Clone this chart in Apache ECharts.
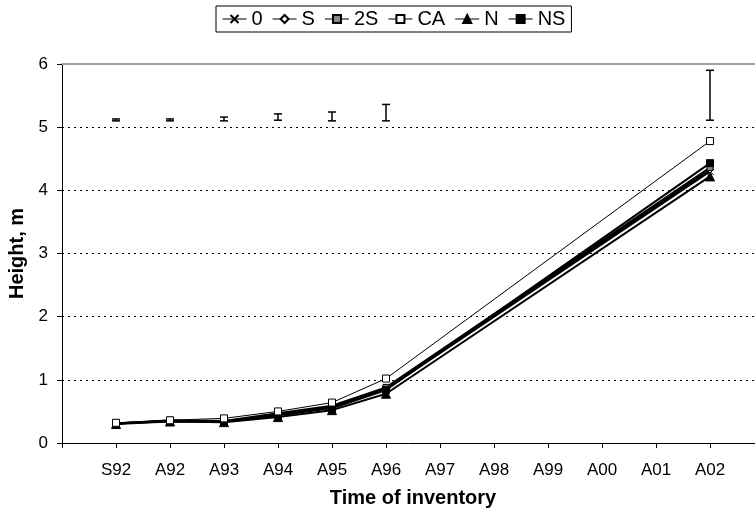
<!DOCTYPE html>
<html><head><meta charset="utf-8">
<script src="https://cdn.jsdelivr.net/npm/echarts@6/dist/echarts.min.js"></script>
<style>html,body{margin:0;padding:0;background:#fff}#c{width:755px;height:512px}</style>
</head><body><div id="c"></div>
<script>
var categories = ['', 'S92','A92','A93','A94','A95','A96','A97','A98','A99','A00','A01','A02', ''];
var s0  = [null, 0.31, 0.35, 0.34, 0.45, 0.57, 0.85, null, null, null, null, null, 4.30, null];
var sS  = [null, 0.31, 0.35, 0.34, 0.44, 0.56, 0.86, null, null, null, null, null, 4.33, null];
var s2S = [null, 0.31, 0.36, 0.35, 0.47, 0.59, 0.88, null, null, null, null, null, 4.36, null];
var sCA = [null, 0.32, 0.36, 0.39, 0.50, 0.64, 1.02, null, null, null, null, null, 4.78, null];
var sN  = [null, 0.30, 0.34, 0.33, 0.41, 0.52, 0.78, null, null, null, null, null, 4.22, null];
var sNS = [null, 0.31, 0.35, 0.34, 0.44, 0.55, 0.84, null, null, null, null, null, 4.43, null];
var errLow  = [null, 5.10, 5.10, 5.10, 5.11, 5.10, 5.10, null, null, null, null, null, 5.11, null];
var errHigh = [null, 5.13, 5.13, 5.16, 5.21, 5.24, 5.36, null, null, null, null, null, 5.90, null];
var yTicks = [0, 1, 2, 3, 4, 5, 6];

var FONT = 'Liberation Sans';
var chart = echarts.init(document.getElementById('c'));
function lineSeries(name, data, symbol, size, fill, width, z) {
  return {
    name: name, type: 'line', data: data, connectNulls: true,
    symbol: symbol, symbolSize: size, showSymbol: true, z: z,
    lineStyle: {color: '#000', width: width},
    itemStyle: {color: fill, borderColor: '#000', borderWidth: 1, opacity: 1},
    emphasis: {disabled: true}, animation: false
  };
}
var errData = [];
for (var i = 0; i < categories.length; i++) {
  if (errLow[i] != null) errData.push([i, errLow[i], errHigh[i]]);
}
var option = {
  animation: false,
  textStyle: {fontFamily: FONT},
  legend: {
    top: 6, left: 216,
    data: ['0','S','2S','CA','N','NS'],
    itemWidth: 24, itemHeight: 10, itemGap: 9.5,
    padding: [3, 6, 3, 6],
    borderColor: '#000', borderWidth: 1,
    lineStyle: {width: 1},
    textStyle: {fontFamily: FONT, fontSize: 20, color: '#000'}
  },
  grid: {left: 62, right: -9, top: 64, bottom: 69, containLabel: false, outerBoundsMode: 'none'},
  xAxis: [{
    type: 'category', data: categories, boundaryGap: false,
    axisLine: {lineStyle: {color: '#000', width: 1}},
    axisTick: {show: true, length: 5, lineStyle: {color: '#000'}},
    axisLabel: {fontFamily: FONT, fontSize: 17, color: '#000', margin: 19, interval: 0},
    splitLine: {show: false},
    name: 'Time of inventory', nameLocation: 'middle', nameGap: 45,
    nameTextStyle: {fontFamily: FONT, fontSize: 20, fontWeight: 'bold', color: '#000'}
  }, {
    type: 'category', data: categories, boundaryGap: false, position: 'top',
    axisLine: {lineStyle: {color: '#a0a0a0', width: 2}},
    axisTick: {show: false}, axisLabel: {show: false}, splitLine: {show: false}
  }],
  yAxis: {
    type: 'value', min: yTicks[0], max: yTicks[yTicks.length-1], interval: 1,
    axisLine: {show: true, lineStyle: {color: '#000', width: 1}},
    axisTick: {show: true, length: 5, lineStyle: {color: '#000'}},
    axisLabel: {fontFamily: FONT, fontSize: 17, color: '#000', margin: 14},
    splitLine: {show: true, lineStyle: {color: '#000', type: [2, 4], width: 1}},
    name: 'Height, m', nameLocation: 'middle', nameGap: 27,
    nameTextStyle: {fontFamily: FONT, fontSize: 20, fontWeight: 'bold', color: '#000'}
  },
  series: [
    lineSeries('0', s0, 'path://M0,0L10,10M10,0L0,10', 7, '#000', 2, 3),
    lineSeries('S', sS, 'diamond', 7, '#fff', 2, 3),
    lineSeries('2S', s2S, 'rect', 6, '#888', 2, 3),
    lineSeries('N', sN, 'triangle', 9, '#000', 2, 4),
    lineSeries('NS', sNS, 'rect', 7, '#000', 2, 4),
    lineSeries('CA', sCA, 'rect', 7, '#fff', 1, 5),
    {
      type: 'custom', name: 'err', data: errData, z: 6, silent: true,
      renderItem: function (params, api) {
        var x = api.value(0);
        var lo = api.coord([x, api.value(1)]);
        var hi = api.coord([x, api.value(2)]);
        var w = 4;
        return {type: 'group', children: [
          {type: 'line', shape: {x1: lo[0], y1: lo[1], x2: hi[0], y2: hi[1]}, style: {stroke: '#000', lineWidth: 1.5}},
          {type: 'line', shape: {x1: lo[0]-w, y1: lo[1], x2: lo[0]+w, y2: lo[1]}, style: {stroke: '#000', lineWidth: 1.5}},
          {type: 'line', shape: {x1: hi[0]-w, y1: hi[1], x2: hi[0]+w, y2: hi[1]}, style: {stroke: '#000', lineWidth: 1.5}}
        ]};
      }
    }
  ]
};
chart.setOption(option);
</script></body></html>
